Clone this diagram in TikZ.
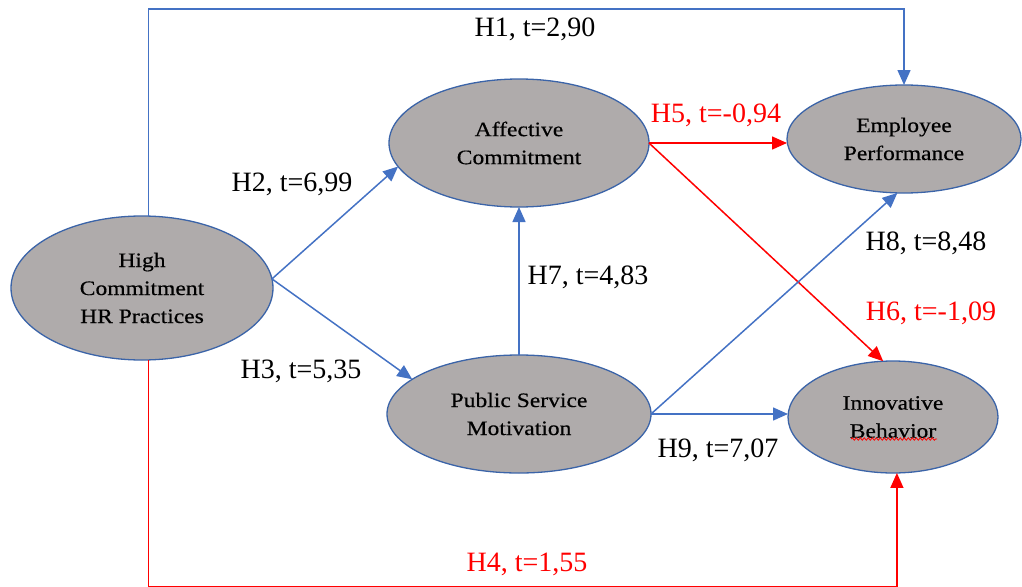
\documentclass[tikz,border=0pt]{standalone}
\usepackage{fontspec}
\setmainfont{Liberation Serif}
\newfontfamily\ellfont[FakeStretch=1.15,FakeBold=0.4]{Liberation Serif}
\usetikzlibrary{arrows.meta,shapes.geometric,decorations.pathmorphing}
\definecolor{pathblue}{HTML}{4472C4}
\definecolor{rimblue}{HTML}{3B64A8}
\definecolor{ellgray}{HTML}{AFABAB}
\definecolor{negred}{HTML}{FF0000}

\begin{document}
\begin{tikzpicture}[x=1pt,y=-1pt,
  construct/.style={ellipse, draw=rimblue, line width=1.3pt, fill=ellgray,
    inner sep=0pt, outer sep=0pt, align=center,
    font=\ellfont\fontsize{20.5}{28}\selectfont},
  link/.style={line width=1.5pt, -{Triangle[length=15pt,width=13pt]}},
  poslink/.style={link, draw=pathblue},
  neglink/.style={link, draw=negred},
  hlabel/.style={font=\fontsize{28}{30}\selectfont, inner sep=0pt, anchor=base},
]
\useasboundingbox (0,0) rectangle (1022,586);

% constructs
\node[construct, minimum width=262pt, minimum height=144pt] (hr) at (142,288) {High\\Commitment\\HR Practices};
\node[construct, minimum width=260pt, minimum height=128pt] (ac) at (519,143) {Affective\\Commitment};
\node[construct, minimum width=234pt, minimum height=108pt] (ep) at (904,139) {Employee\\Performance};
\node[construct, minimum width=264pt, minimum height=118pt] (psm) at (519,414) {Public Service\\Motivation};
\node[construct, minimum width=210pt, minimum height=112pt] (ib) at (893,417) {Innovative\\Behavior};

% spell-check squiggle under "Behavior"
\draw[negred, line width=0.8pt, decorate, decoration={snake, amplitude=1.2pt, segment length=4pt}]
  (851,439) -- (937,439);

% turning points of the two outer paths (the lower one runs along the page edge)
\coordinate (topturn) at (520,9);
\coordinate (baseturn) at (520,587.1);

% paths
\draw[poslink] (hr.85) |- (topturn) -| (ep.north);
\draw[poslink] (hr.4) -- (ac.191);
\draw[poslink] (hr.4) -- (psm.162);
\draw[poslink] (psm.north) -- (ac.south);
\draw[neglink] (ac.east) -- (ac.east -| ep.west);
\draw[neglink] (ac.east) -- (ib.100);
\draw[poslink] (psm.east) -- (ep.263);
\draw[poslink] (psm.east) -- (psm.east -| ib.west);
\draw[neglink] (hr.275) |- (baseturn) -| (ib.-86);

% path coefficients
\node[hlabel] (l1) at (535,37) {H1, t=2,90};
\node[hlabel] (l2) at (292,191) {H2, t=6,99};
\node[hlabel] (l3) at (301,378) {H3, t=5,35};
\node[hlabel, text=negred] (l5) at (716,122) {H5, t=-0,94};
\node[hlabel] (l7) at (588,284) {H7, t=4,83};
\node[hlabel] (l8) at (926,250) {H8, t=8,48};
\node[hlabel, text=negred] (l6) at (931,320) {H6, t=-1,09};
\node[hlabel] (l9) at (718,457) {H9, t=7,07};
\node[hlabel, text=negred] (l4) at (527,571) {H4, t=1,55};
\end{tikzpicture}
\end{document}
